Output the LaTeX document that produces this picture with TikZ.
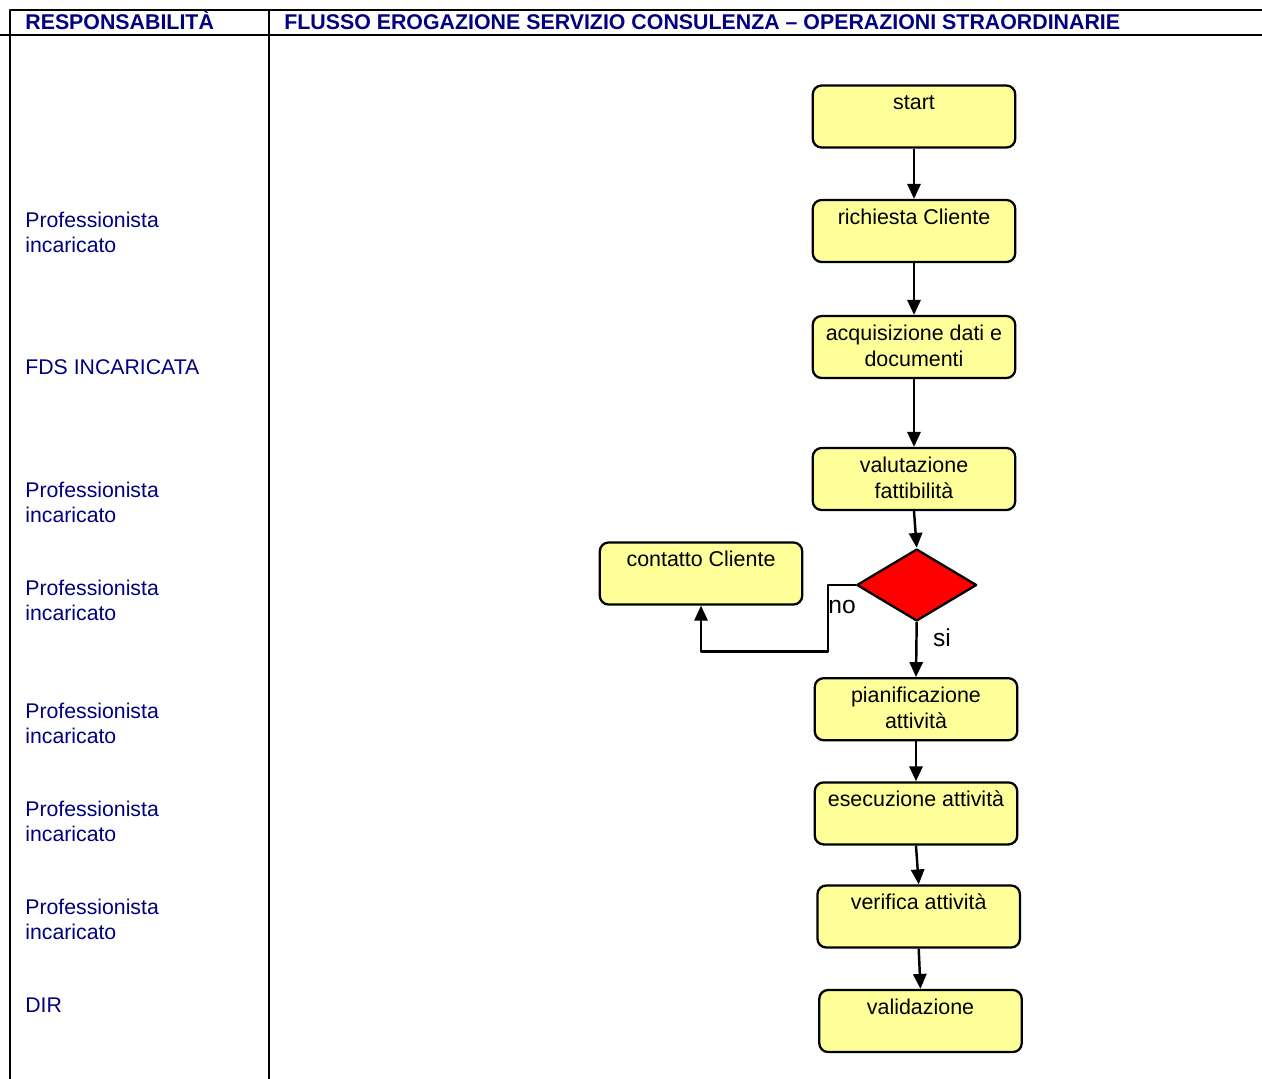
\documentclass[tikz,border=0pt]{standalone}
\usepackage{fontspec}
\setmainfont{Liberation Sans}
\usetikzlibrary{shapes.geometric,arrows.meta}
\newcommand{\boxlines}[1]{\parbox[c][1.24cm][t]{4.05cm}{\centering\vspace{3.5pt}\strut #1\strut}}
\begin{document}
\begin{tikzpicture}[x=0.02cm, y=-0.02cm, line join=round,
  rule/.style={line width=1.5pt},
  head/.style={text=headblue, font=\bfseries\fontsize{12.15pt}{14pt}\selectfont, inner sep=0pt, anchor=base west},
  role/.style={text=headblue, font=\fontsize{12.1pt}{13.8pt}\selectfont, align=left, inner sep=0pt, anchor=west},
  stepbox/.style={draw, line width=1.3pt, rounded corners=5pt, fill=boxyellow, inner sep=0pt, font=\fontsize{12.2pt}{14.7pt}\selectfont},
  decision/.style={diamond, draw, line width=1.3pt, fill=red, inner sep=0pt, minimum width=2.4cm, minimum height=1.44cm},
  flow/.style={line width=1.4pt, -{Triangle[length=8.5pt,width=7.5pt]}},
  branch/.style={font=\fontsize{14pt}{16pt}\selectfont, inner sep=0pt, anchor=base}]
  \definecolor{headblue}{RGB}{0,0,128}
  \definecolor{boxyellow}{RGB}{255,255,153}
  \useasboundingbox (0,0) rectangle (1262,1079);
  \draw[rule] (10,1079) -- (10,10) -- (1262,10);
  \draw[rule] (0,35) -- (1262,35);
  \draw[rule] (269,10) -- (269,1079);
  \node[head] (resp) at (25,29.5) {RESPONSABILITÀ};
  \node[head] (flusso) at (284,29.5) {FLUSSO EROGAZIONE SERVIZIO CONSULENZA – OPERAZIONI STRAORDINARIE};
  \foreach \y/\txt [count=\i] in {232.5/{Professionista\\incaricato}, 367/{FDS INCARICATA},
      502.5/{Professionista\\incaricato}, 600.5/{Professionista\\incaricato},
      723.5/{Professionista\\incaricato}, 821.5/{Professionista\\incaricato},
      919.5/{Professionista\\incaricato}, 1005/{DIR}}{
    \node[role] (role\i) at (25,\y) {\txt};
  }
  \node[stepbox] (start) at (914,116.5) {\boxlines{start}};
  \node[stepbox] (richiesta) at (914,231) {\boxlines{richiesta Cliente}};
  \node[stepbox] (acquisizione) at (914,347) {\boxlines{acquisizione dati e\\documenti}};
  \node[stepbox] (valutazione) at (914,479) {\boxlines{valutazione\\fattibilità}};
  \node[decision] (dec) at (916.7,585) {};
  \node[stepbox] (contatto) at (701,573.5) {\boxlines{contatto Cliente}};
  \node[stepbox] (pianificazione) at (916,709.2) {\boxlines{pianificazione\\attività}};
  \node[stepbox] (esecuzione) at (916,813.4) {\boxlines{esecuzione attività}};
  \node[stepbox] (verifica) at (918.7,916.5) {\boxlines{verifica attività}};
  \node[stepbox] (validazione) at (920.5,1021) {\boxlines{validazione}};
  \foreach \a/\b in {start/richiesta, richiesta/acquisizione, acquisizione/valutazione,
      valutazione/dec, dec/pianificazione, pianificazione/esecuzione,
      esecuzione/verifica, verifica/validazione}
    \draw[flow] (\a.south) -- (\b.north);
  \draw[flow] (dec.west) -- ++(-27.5,0) -- ++(0,66.5) -| (contatto.south);
  \node[branch] (no) at (842,613) {no};
  \node[branch] (si) at (942,646.5) {si};
\end{tikzpicture}
\end{document}
